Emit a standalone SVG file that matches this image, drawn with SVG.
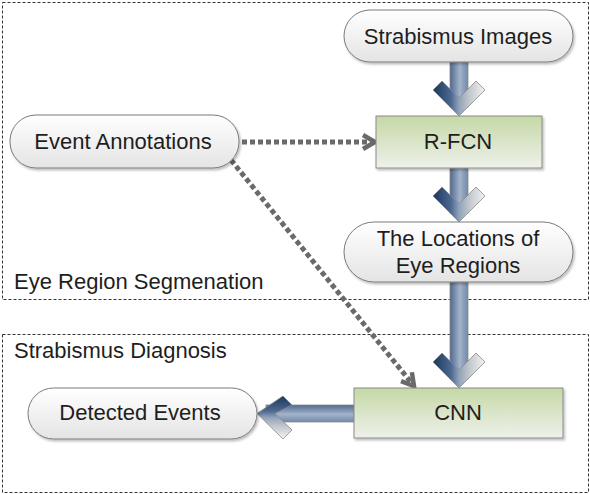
<svg xmlns="http://www.w3.org/2000/svg" width="590" height="494" viewBox="0 0 590 494">
<defs>
<style>
.cont{fill:#fff;stroke:#333;stroke-width:1;stroke-dasharray:3 2}
.lbl{font-family:"Liberation Sans",Arial,sans-serif;font-size:22px;fill:#1e1e1e}
.txt{font-family:"Liberation Sans",Arial,sans-serif;font-size:22px;fill:#1e1e1e;text-anchor:middle}
.pill{fill:url(#gPill);stroke:#7a7a7a;stroke-width:1;filter:url(#sh)}
.box{fill:url(#gBox);stroke:#8a8a8a;stroke-width:1;filter:url(#sh)}
.dot{fill:none;stroke:#6a6a6a;stroke-width:5;stroke-dasharray:5 3}
.edge{stroke:#8a8a8a;stroke-width:0.8}
</style>
<linearGradient id="gPill" x1="0" y1="0" x2="0" y2="1"><stop offset="0" stop-color="#ffffff"/><stop offset="1" stop-color="#e4e4e4"/></linearGradient>
<linearGradient id="gBox" x1="0" y1="0" x2="0" y2="1"><stop offset="0" stop-color="#c5d8a6"/><stop offset="1" stop-color="#eef1ea"/></linearGradient>
<linearGradient id="gShaftV" x1="0" y1="0" x2="1" y2="0"><stop offset="0" stop-color="#50698f"/><stop offset="0.55" stop-color="#a3b4ca"/><stop offset="1" stop-color="#7088a8"/></linearGradient>
<linearGradient id="gHeadV" x1="0" y1="0" x2="1" y2="0"><stop offset="0" stop-color="#1c375e"/><stop offset="0.35" stop-color="#4d6990"/><stop offset="0.5" stop-color="#90a2ba"/><stop offset="0.7" stop-color="#c3c7cd"/><stop offset="1" stop-color="#f2f2f2"/></linearGradient>
<linearGradient id="gShaftH" x1="0" y1="0" x2="0" y2="1"><stop offset="0" stop-color="#50698f"/><stop offset="0.55" stop-color="#a3b4ca"/><stop offset="1" stop-color="#7088a8"/></linearGradient>
<linearGradient id="gHeadH" x1="0" y1="0" x2="0" y2="1"><stop offset="0" stop-color="#1c375e"/><stop offset="0.35" stop-color="#4d6990"/><stop offset="0.5" stop-color="#90a2ba"/><stop offset="0.7" stop-color="#c3c7cd"/><stop offset="1" stop-color="#f2f2f2"/></linearGradient>
<filter id="sh" x="-10%" y="-20%" width="130%" height="150%"><feDropShadow dx="1.5" dy="2" stdDeviation="1.2" flood-color="#000" flood-opacity="0.25"/></filter>
<marker id="open" markerUnits="userSpaceOnUse" markerWidth="20" markerHeight="20" viewBox="0 0 20 20" refX="15" refY="10" orient="auto">
<path d="M3,3 L15,10 L3,17" fill="none" stroke="#6a6a6a" stroke-width="4.5"/>
</marker>
</defs>

<g id="containers">
<rect class="cont" x="2.5" y="2.5" width="586" height="297"/>
<rect class="cont" x="2.5" y="334.5" width="586" height="158"/>
<text class="lbl" x="14" y="289">Eye Region Segmenation</text>
<text class="lbl" x="14" y="358">Strabismus Diagnosis</text>
</g>

<g id="connectors">
<line class="dot" x1="242" y1="142" x2="375" y2="142" marker-end="url(#open)"/>
<line class="dot" x1="231" y1="160" x2="414" y2="386" marker-end="url(#open)"/>
<g>
<rect x="450" y="62" width="18" height="45" fill="url(#gShaftV)" class="edge"/>
<polygon points="442,81 433,90 459,116 485,90 476,81 459,98" fill="url(#gHeadV)" class="edge"/>
</g>
<g>
<rect x="450" y="168" width="18" height="45" fill="url(#gShaftV)" class="edge"/>
<polygon points="442,187 433,196 459,222 485,196 476,187 459,204" fill="url(#gHeadV)" class="edge"/>
</g>
<g>
<rect x="450" y="282" width="18" height="97" fill="url(#gShaftV)" class="edge"/>
<polygon points="442,353 433,362 459,388 485,362 476,353 459,370" fill="url(#gHeadV)" class="edge"/>
</g>
<g>
<rect x="266" y="405" width="88" height="17" fill="url(#gShaftH)" class="edge"/>
<polygon points="292,405 283,396 257,413.5 283,439 292,430 275,413.5" fill="url(#gHeadH)" class="edge"/>
</g>
</g>

<g id="strabismus-images">
<rect class="pill" x="344" y="10" width="229" height="52" rx="26"/>
<text class="txt" x="458" y="44">Strabismus Images</text>
</g>
<g id="event-annotations">
<rect class="pill" x="10" y="115" width="229" height="53" rx="26"/>
<text class="txt" x="123" y="149">Event Annotations</text>
</g>
<g id="r-fcn">
<rect class="box" x="376" y="116" width="166" height="52"/>
<text class="txt" x="458" y="149">R-FCN</text>
</g>
<g id="locations">
<rect class="pill" x="344" y="222" width="229" height="60" rx="30"/>
<text class="txt" x="458" y="246">The Locations of</text>
<text class="txt" x="458" y="273">Eye Regions</text>
</g>
<g id="cnn">
<rect class="box" x="354" y="388" width="209" height="50"/>
<text class="txt" x="458" y="420">CNN</text>
</g>
<g id="detected-events">
<rect class="pill" x="28" y="388" width="229" height="51" rx="25.5"/>
<text class="txt" x="140" y="420">Detected Events</text>
</g>
</svg>
